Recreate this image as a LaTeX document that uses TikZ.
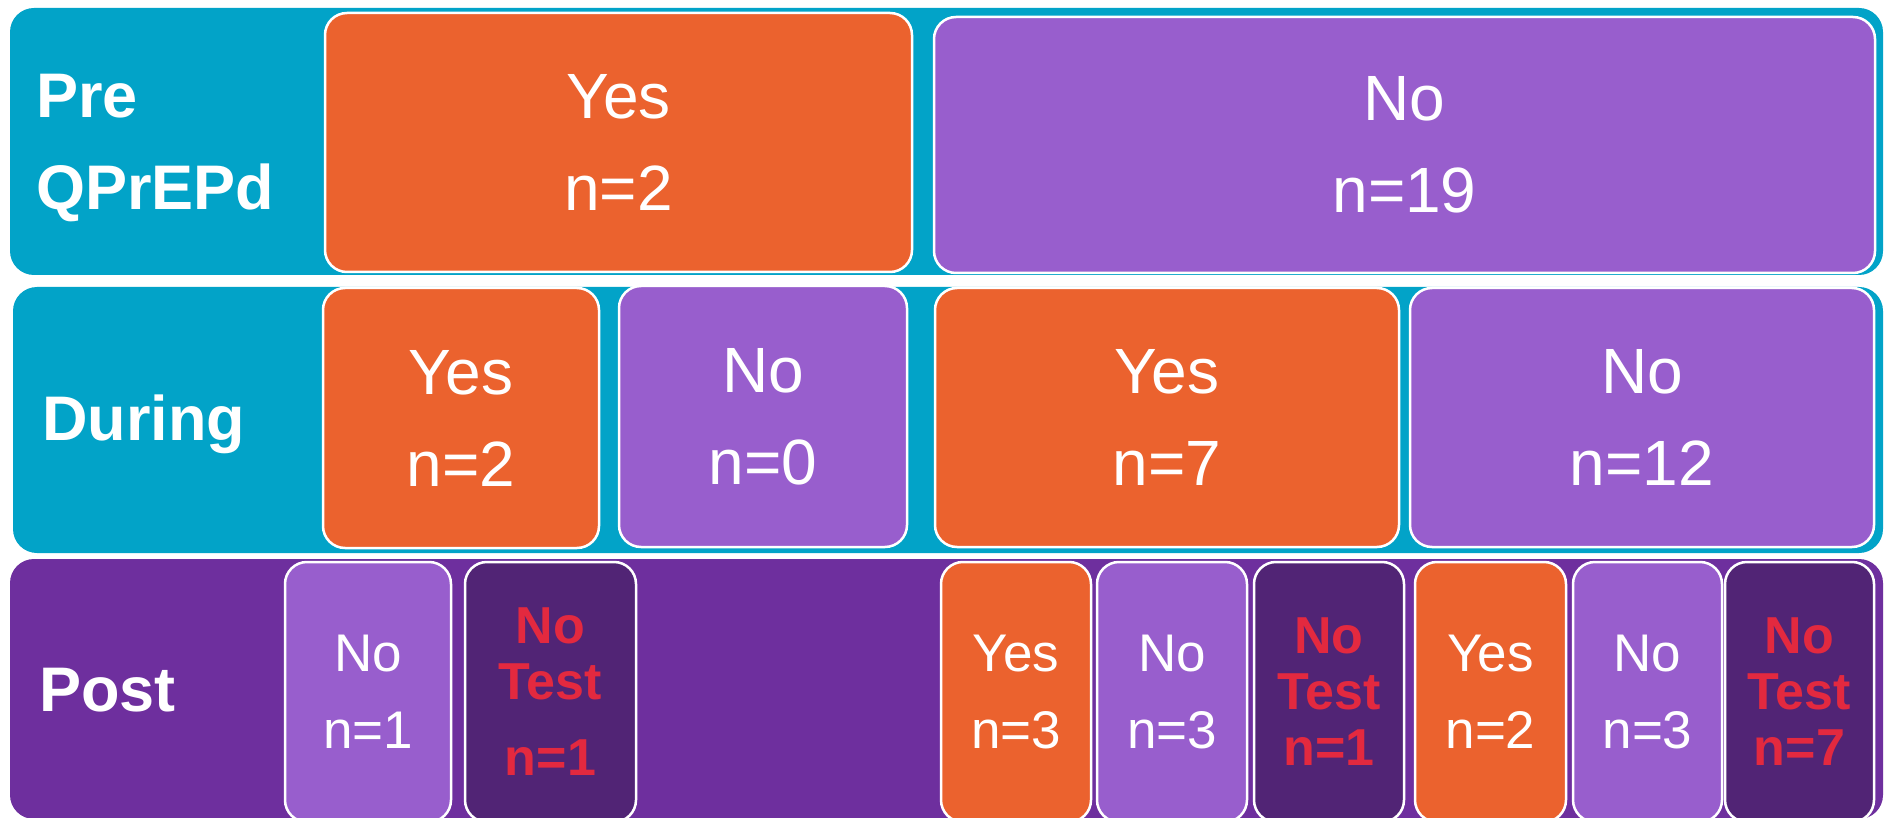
\documentclass[tikz,border=0pt]{standalone}
\usepackage{fontspec}
\setmainfont{Liberation Sans}
\usepackage{tikz}
\usetikzlibrary{positioning}
\definecolor{StudyTeal}{HTML}{02A3C8}
\definecolor{StudyOrange}{HTML}{EB622E}
\definecolor{StudyLilac}{HTML}{985ECD}
\definecolor{StudyPurple}{HTML}{6E2F9E}
\definecolor{StudyPlum}{HTML}{512475}
\definecolor{StudyRed}{HTML}{E3293F}

\begin{document}
\begin{tikzpicture}[x=1pt,y=-1pt]
  \tikzstyle{band}=[rounded corners=24pt, inner sep=0pt]
  \tikzstyle{cell}=[rounded corners=22pt, draw=white, line width=2.5pt, inner sep=0pt, align=center, text=white]
  \tikzstyle{bigcell}=[cell, font=\fontsize{64}{92}\selectfont]
  \tikzstyle{smallcell}=[cell, minimum height=260pt, font=\fontsize{53}{77}\selectfont]
  \tikzstyle{notestcell}=[cell, minimum height=260pt, fill=StudyPlum, text=StudyRed, font=\fontsize{52}{56}\selectfont\bfseries]
  \tikzstyle{rowlabel}=[inner sep=0pt, text=white, align=left, font=\fontsize{63}{92}\selectfont\bfseries]
  \useasboundingbox[fill=white] (0,0) rectangle (1885,818);

  \node[band, fill=StudyTeal, minimum width=1873pt, minimum height=267pt] (preband) at (946.5,141.5) {};
  \node[band, fill=StudyTeal, minimum width=1870pt, minimum height=266pt] (durband) at (948,420) {};
  \node[band, fill=StudyPurple, minimum width=1873pt, minimum height=260pt] (postband) at (946.5,689) {};

  \node[rowlabel, anchor=west] (pre) at (36,148) {Pre\\QPrEPd};
  \node[rowlabel, anchor=base west] (dur) at (42,440) {During};
  \node[rowlabel, anchor=base west] (post) at (39,711) {Post};

  \node[bigcell, fill=StudyOrange, minimum width=587pt, minimum height=259pt] (preyes) at (618.5,142.5) {Yes\\n=2};
  \node[bigcell, fill=StudyLilac, minimum width=941pt, minimum height=256pt] (preno) at (1404.5,145) {No\\n=19};

  \node[bigcell, fill=StudyOrange, minimum width=276pt, minimum height=260pt] (duryesa) at (461,418) {Yes\\n=2};
  \node[bigcell, fill=StudyLilac, minimum width=288pt, minimum height=261pt] (durnoa) at (763,416.5) {No\\n=0};
  \node[bigcell, fill=StudyOrange, minimum width=464pt, minimum height=259pt] (duryesb) at (1167,417.5) {Yes\\n=7};
  \node[bigcell, fill=StudyLilac, minimum width=464pt, minimum height=259pt] (durnob) at (1642,417.5) {No\\n=12};

  \node[smallcell, fill=StudyLilac, minimum width=166pt] (postnoa) at (368,692) {No\\n=1};
  \node[notestcell, minimum width=171pt] (posttesta) at (550.5,692) {No\\Test\\[20pt]n=1};
  \node[smallcell, fill=StudyOrange, minimum width=150pt] (postyesb) at (1016,692) {Yes\\n=3};
  \node[smallcell, fill=StudyLilac, minimum width=150pt] (postnob) at (1172,692) {No\\n=3};
  \node[notestcell, minimum width=150pt] (posttestb) at (1329,692) {No\\Test\\n=1};
  \node[smallcell, fill=StudyOrange, minimum width=151pt] (postyesc) at (1490.5,692) {Yes\\n=2};
  \node[smallcell, fill=StudyLilac, minimum width=149pt] (postnoc) at (1647.5,692) {No\\n=3};
  \node[notestcell, minimum width=149pt] (posttestc) at (1799.5,692) {No\\Test\\n=7};
\end{tikzpicture}
\end{document}
